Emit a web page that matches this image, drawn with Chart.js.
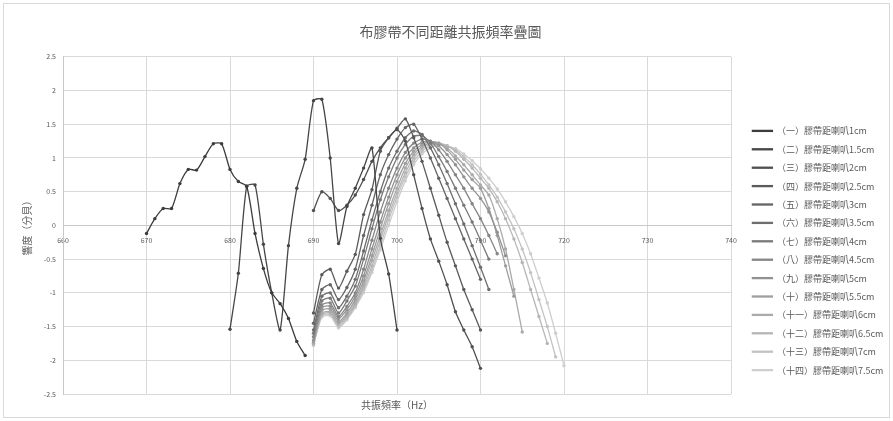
<!DOCTYPE html>
<html>
<head>
<meta charset="utf-8">
<script src="https://cdn.jsdelivr.net/npm/chart.js@4/dist/chart.umd.min.js"></script>
<style>
  html, body { margin: 0; padding: 0; background: #fff; }
  #wrap { position: relative; width: 893px; height: 421px; }
  #frame { position: absolute; left: 3px; top: 3px; right: 3px; bottom: 3px; border: 1px solid #d9d9d9; pointer-events: none; }
</style>
</head>
<body>
<div id="wrap"><canvas id="c" width="893" height="421"></canvas><div id="frame"></div></div>
<script>
// 布膠帶不同距離共振頻率疊圖
const chartTitle = '布膠帶不同距離共振頻率疊圖';
const xTitle = '共振頻率（Hz）';
const yTitle = '響度（分貝）';

// axis ticks
const xTicks = [660, 670, 680, 690, 700, 710, 720, 730, 740];
const yTicks = [-2.5, -2, -1.5, -1, -0.5, 0, 0.5, 1, 1.5, 2, 2.5];

// measured frequencies (Hz)
const hz = [670, 671, 672, 673, 674, 675, 676, 677, 678, 679,
            680, 681, 682, 683, 684, 685, 686, 687, 688, 689,
            690, 691, 692, 693, 694, 695, 696, 697, 698, 699,
            700, 701, 702, 703, 704, 705, 706, 707, 708, 709,
            710, 711, 712, 713, 714, 715, 716, 717, 718, 719, 720];

const seriesNames = [
  '（一）膠帶距喇叭1cm', '（二）膠帶距喇叭1.5cm', '（三）膠帶距喇叭2cm', '（四）膠帶距喇叭2.5cm',
  '（五）膠帶距喇叭3cm', '（六）膠帶距喇叭3.5cm', '（七）膠帶距喇叭4cm', '（八）膠帶距喇叭4.5cm',
  '（九）膠帶距喇叭5cm', '（十）膠帶距喇叭5.5cm', '（十一）膠帶距喇叭6cm', '（十二）膠帶距喇叭6.5cm',
  '（十三）膠帶距喇叭7cm', '（十四）膠帶距喇叭7.5cm'
];

// first frequency of each series
const startHz = [670, 680, 690, 690, 690, 690, 690, 690, 690, 690, 690, 690, 690, 690];

// loudness readings, one per Hz from the start frequency
const s01 = [-0.12, 0.1, 0.25, 0.25, 0.62, 0.83, 0.82, 1.02, 1.21, 1.21, 0.83, 0.65, 0.58, -0.12, -0.64, -1.0, -1.16, -1.38, -1.72, -1.93];
const s02 = [-1.54, -0.71, 0.58, 0.6, -0.28, -1.0, -1.55, -0.3, 0.55, 0.98, 1.85, 1.87, 1.0, -0.27, 0.28, 0.55, 0.85, 1.15, -0.19, -0.72, -1.55];
const s03 = [0.22, 0.5, 0.4, 0.22, 0.3, 0.45, 0.68, 0.95, 1.15, 1.3, 1.42, 1.25, 0.75, 0.25, -0.2, -0.53, -0.88, -1.28, -1.55, -1.8, -2.12];
const s04 = [-1.3, -0.73, -0.65, -0.93, -0.68, -0.43, 0.16, 0.53, 1.1, 1.3, 1.44, 1.58, 1.3, 0.95, 0.55, 0.15, -0.25, -0.6, -0.95, -1.25, -1.55];
const s05 = [-1.45, -0.95, -0.88, -1.1, -0.92, -0.65, -0.15, 0.3, 0.75, 1.05, 1.28, 1.45, 1.5, 1.28, 1.0, 0.7, 0.4, 0.1, -0.2, -0.5, -0.8];
const s06 = [-1.55, -1.05, -1.0, -1.22, -1.05, -0.8, -0.38, 0.08, 0.5, 0.85, 1.1, 1.3, 1.4, 1.35, 1.15, 0.9, 0.62, 0.32, 0.02, -0.3, -0.62, -0.95];
const s07 = [-1.6, -1.12, -1.08, -1.3, -1.12, -0.9, -0.5, -0.05, 0.38, 0.72, 1.0, 1.2, 1.32, 1.33, 1.22, 1.02, 0.8, 0.55, 0.3, 0.05, -0.22, -0.5];
const s08 = [-1.65, -1.18, -1.15, -1.35, -1.2, -1.0, -0.65, -0.22, 0.2, 0.55, 0.85, 1.08, 1.22, 1.28, 1.25, 1.12, 0.95, 0.75, 0.55, 0.32, 0.1, -0.15, -0.42];
const s09 = [-1.7, -1.22, -1.2, -1.38, -1.25, -1.05, -0.75, -0.35, 0.05, 0.42, 0.75, 1.0, 1.15, 1.23, 1.25, 1.18, 1.05, 0.9, 0.72, 0.55, 0.4, 0.2, -0.1, -0.45];
const s10 = [-1.72, -1.26, -1.24, -1.42, -1.3, -1.1, -0.82, -0.45, -0.05, 0.32, 0.65, 0.92, 1.1, 1.2, 1.24, 1.22, 1.12, 0.98, 0.82, 0.68, 0.55, 0.25, -0.15, -0.6, -1.05];
const s11 = [-1.75, -1.3, -1.28, -1.45, -1.33, -1.15, -0.88, -0.52, -0.15, 0.22, 0.55, 0.85, 1.05, 1.17, 1.22, 1.22, 1.15, 1.03, 0.9, 0.75, 0.6, 0.45, 0.1, -0.35, -0.95, -1.58];
const s12 = [-1.75, -1.32, -1.3, -1.47, -1.36, -1.18, -0.92, -0.6, -0.22, 0.15, 0.48, 0.78, 1.0, 1.14, 1.2, 1.22, 1.18, 1.1, 0.98, 0.85, 0.7, 0.55, 0.35, 0.1, -0.2, -0.55, -0.95, -1.35, -1.75];
const s13 = [-1.77, -1.34, -1.32, -1.5, -1.38, -1.2, -0.96, -0.66, -0.3, 0.08, 0.42, 0.72, 0.95, 1.1, 1.18, 1.2, 1.18, 1.12, 1.02, 0.9, 0.76, 0.6, 0.42, 0.2, -0.05, -0.35, -0.7, -1.1, -1.5, -1.95];
const s14 = [-1.78, -1.36, -1.34, -1.52, -1.4, -1.22, -1.0, -0.7, -0.36, 0.0, 0.35, 0.66, 0.9, 1.06, 1.15, 1.19, 1.18, 1.14, 1.06, 0.96, 0.84, 0.7, 0.54, 0.35, 0.13, -0.12, -0.42, -0.78, -1.15, -1.6, -2.08];

const seriesValues = [s01, s02, s03, s04, s05, s06, s07, s08, s09, s10, s11, s12, s13, s14];

// grey ramp, darkest for the first series
const seriesColors = ['#3c3c3c', '#464646', '#505050', '#5a5a5a', '#646464', '#6e6e6e', '#7a7a7a',
                      '#868686', '#929292', '#9e9e9e', '#aaaaaa', '#b6b6b6', '#c2c2c2', '#cecece'];

const FONT = '"Noto Sans CJK TC", "Noto Sans", "Liberation Sans", sans-serif';
const TEXT = '#595959';
const GRID = '#d9d9d9';

const datasets = seriesValues.map((vals, i) => {
  const first = hz.indexOf(startHz[i]);
  return {
    label: seriesNames[i],
    data: vals.map((v, k) => ({ x: hz[first + k], y: v })),
    borderColor: seriesColors[i],
    backgroundColor: seriesColors[i],
    pointBackgroundColor: seriesColors[i],
    pointBorderColor: seriesColors[i],
    borderWidth: 1.3,
    pointRadius: 1.7,
    pointBorderWidth: 0,
    tension: 0.22,
    xAxisID: 'x'
  };
});

// keeps the legend column a fixed width and a little away from the plot
const legendPlacement = {
  id: 'legendPlacement',
  beforeLayout(chart) {
    const lg = chart.legend;
    if (lg && !lg._fixedWidth) {
      const fit = lg.fit;
      lg.fit = function () { fit.call(this); this.width = 150; };
      lg._fixedWidth = true;
    }
  },
  afterLayout(chart) {
    const lg = chart.legend;
    if (lg) {
      lg.left += 12; lg.right += 12;
      lg.top += 107; lg.bottom += 107;
    }
  }
};

new Chart(document.getElementById('c'), {
  type: 'line',
  data: { datasets },
  plugins: [legendPlacement],
  options: {
    responsive: false,
    animation: false,
    layout: { padding: { top: 10, bottom: 4, left: 20, right: 12 } },
    font: { family: FONT },
    plugins: {
      title: {
        display: true, text: chartTitle, color: TEXT,
        font: { size: 14, family: FONT, weight: 'normal' },
        padding: { top: 13, bottom: 17 }
      },
      legend: {
        position: 'right',
        align: 'start',
        labels: {
          color: TEXT, boxWidth: 20, boxHeight: 1, padding: 9.4,
          font: { size: 9, family: FONT }
        }
      },
      tooltip: { enabled: false }
    },
    scales: {
      x: {
        type: 'linear', position: 'bottom',
        min: xTicks[0], max: xTicks[xTicks.length - 1],
        ticks: { display: false, stepSize: 10 },
        grid: { color: GRID, drawTicks: false },
        border: { display: false },
        title: {
          display: true, text: xTitle, color: TEXT,
          font: { size: 10, family: FONT }, padding: { top: 5, bottom: 6 }
        }
      },
      xZero: {
        type: 'linear', position: { y: 0 },
        min: xTicks[0], max: xTicks[xTicks.length - 1],
        afterBuildTicks(s) { s.ticks = xTicks.map(v => ({ value: v })); },
        ticks: { color: TEXT, font: { size: 7, family: FONT }, padding: 11, maxRotation: 0, autoSkip: false },
        grid: { display: false, drawTicks: false },
        border: { display: true, color: '#c8c8c8' },
        afterFit(s) { s.height = 0; }
      },
      y: {
        min: yTicks[0], max: yTicks[yTicks.length - 1],
        afterBuildTicks(s) { s.ticks = yTicks.map(v => ({ value: v })); },
        ticks: {
          color: TEXT, font: { size: 7, family: FONT }, padding: 7,
          callback: (v) => String(v)
        },
        grid: { color: GRID, drawTicks: false },
        border: { color: '#c8c8c8' },
        title: {
          display: true, text: yTitle, color: TEXT,
          font: { size: 10, family: FONT }, padding: { top: 1, bottom: 0 }
        },
        afterFit(s) { s.width = 43; }
      }
    }
  }
});
</script>
</body>
</html>
